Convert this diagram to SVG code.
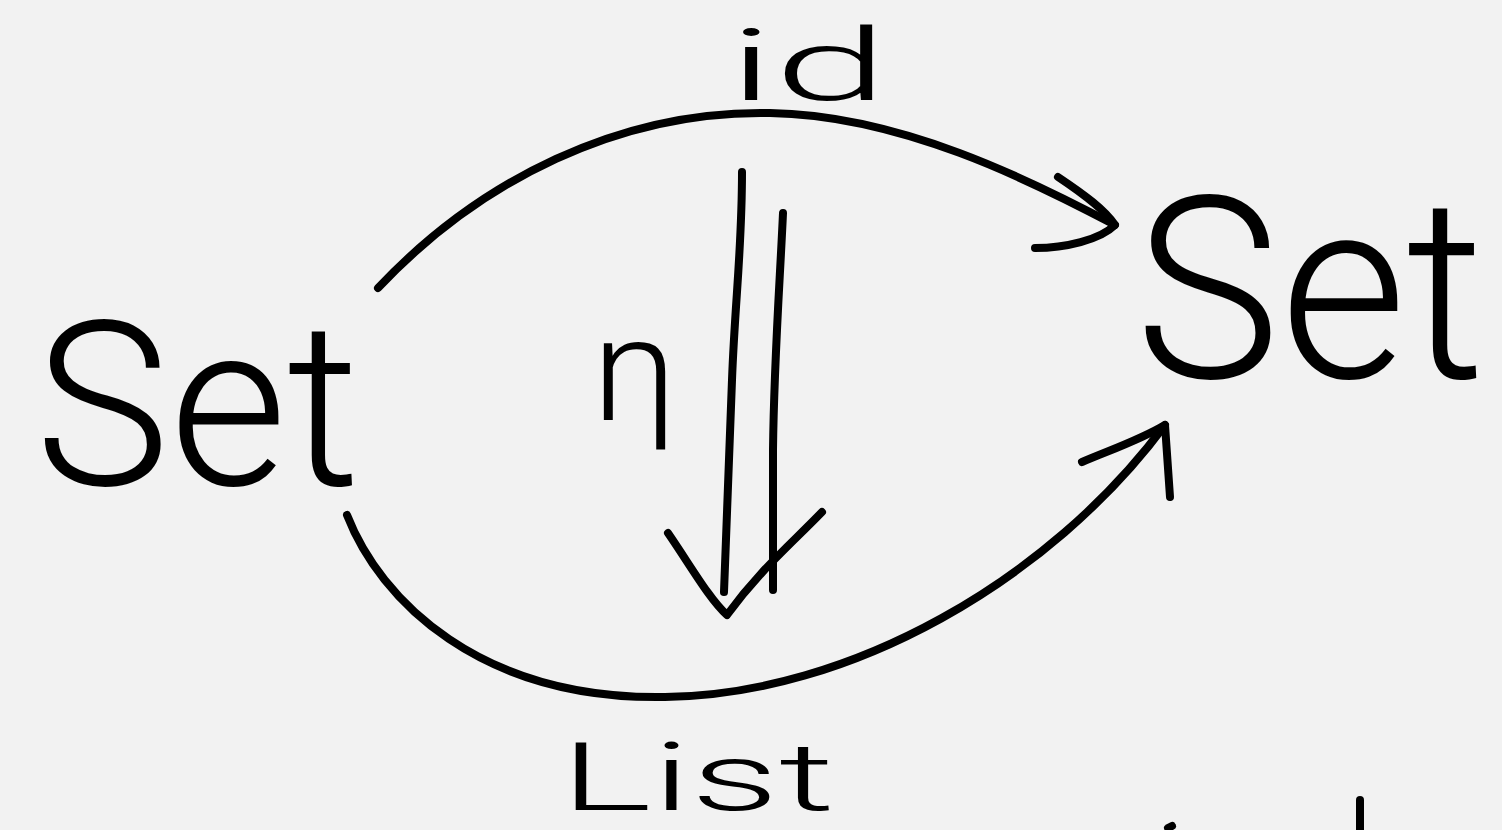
<svg xmlns="http://www.w3.org/2000/svg" width="1502" height="830" viewBox="0 0 1502 830">
<style>
.t{font-family:"Roboto","Liberation Sans",sans-serif;font-weight:300;fill:#000}
.s{fill:none;stroke:#000;stroke-width:8;stroke-linecap:round;stroke-linejoin:round}
</style>
<rect width="1502" height="830" fill="#f2f2f2"/>
<g id="node-set-left"><text class="t" x="35" y="485" font-size="230" textLength="325" lengthAdjust="spacingAndGlyphs">Set</text></g>
<g id="node-set-right"><text class="t" x="1135" y="378" font-size="255" textLength="350" lengthAdjust="spacingAndGlyphs">Set</text></g>
<g id="label-id"><text class="t" x="728" y="100" font-size="100" textLength="160" lengthAdjust="spacingAndGlyphs">id</text></g>
<g id="label-eta"><text class="t" x="592" y="420" font-size="144" textLength="85" lengthAdjust="spacingAndGlyphs">η</text></g>
<g id="label-list"><text class="t" x="560" y="810" font-size="95" textLength="275" lengthAdjust="spacingAndGlyphs">List</text></g>
<g id="connectors" class="s">
<path d="M378,288 C480,180 620,110 770,113 C900,115 1030,180 1115,225"/>
<path d="M1058,177 C1085,195 1105,210 1115,225 C1100,240 1065,248 1035,248"/>
<path d="M347,515 C380,600 480,700 665,697 C850,695 1050,580 1165,425"/>
<path d="M1082,462 C1110,450 1140,440 1165,425 L1170,497"/>
<path d="M742,172 C742,250 735,300 732,380 L724,592"/>
<path d="M783,213 C780,280 774,360 773,450 L773,590"/>
<path d="M668,533 C690,565 710,600 727,615 C760,570 790,545 822,512"/>
<path d="M1360,800 L1360,830"/>
<path d="M1168,828 L1172,826"/>
</g>
</svg>
